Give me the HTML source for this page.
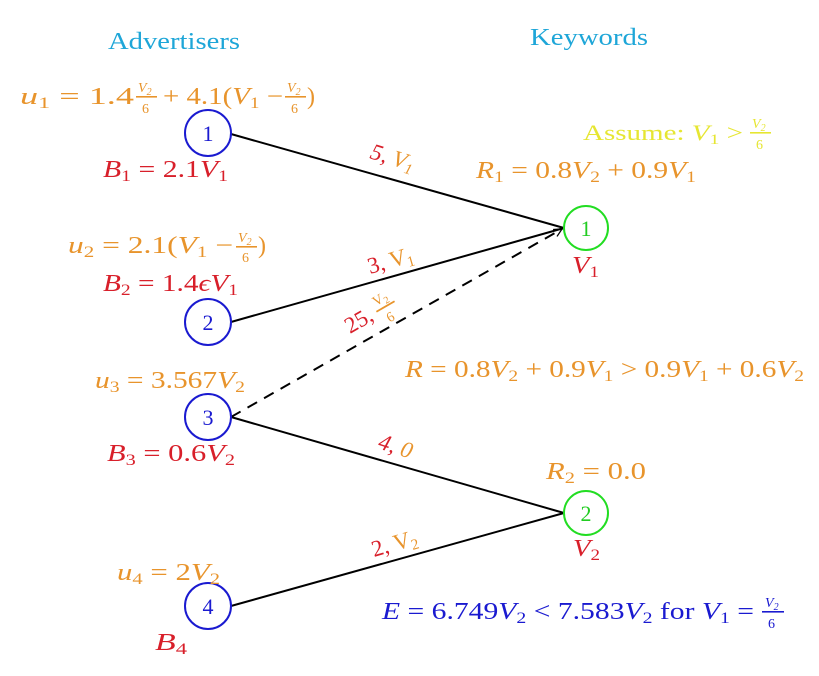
<!DOCTYPE html>
<html><head><meta charset="utf-8"><style>
html,body{margin:0;padding:0;background:#fff;}
svg{display:block;}
text{font-family:"Liberation Serif",serif;}
.o{fill:#e8942c}.r{fill:#d81f2a}.b{fill:#1a1ad0}.g{fill:#22cc22}
.i{font-style:italic}
</style></head><body>
<svg width="819" height="676" viewBox="0 0 819 676" xmlns="http://www.w3.org/2000/svg">
<defs><marker id="ar" markerWidth="10" markerHeight="10" refX="9" refY="5" orient="auto" markerUnits="userSpaceOnUse"><path d="M1,1 L9,5 L1,9" fill="none" stroke="#000" stroke-width="1.3"/></marker></defs>
<text x="108" y="49" font-size="24" textLength="132" lengthAdjust="spacingAndGlyphs" fill="#1ea6d8">Advertisers</text>
<text x="530" y="45" font-size="24" textLength="118" lengthAdjust="spacingAndGlyphs" fill="#1ea6d8">Keywords</text>

<g stroke="#000" stroke-width="2" fill="none">
<line x1="231" y1="134" x2="564" y2="228"/>
<line x1="231" y1="322" x2="564" y2="228"/>
<line x1="231" y1="417" x2="564" y2="513"/>
<line x1="231" y1="606" x2="564" y2="513"/>
<line x1="231" y1="417" x2="562" y2="229" stroke-dasharray="11,8" marker-end="url(#ar)"/>
</g>

<g fill="none" stroke-width="2">
<circle cx="208" cy="133" r="23" stroke="#1a1ad0"/>
<circle cx="208" cy="322" r="23" stroke="#1a1ad0"/>
<circle cx="208" cy="417" r="23" stroke="#1a1ad0"/>
<circle cx="208" cy="606" r="23" stroke="#1a1ad0"/>
<circle cx="586" cy="228" r="22" stroke="#22dd22"/>
<circle cx="586" cy="513" r="22" stroke="#22dd22"/>
</g>
<g font-size="22" text-anchor="middle">
<text x="208" y="141" class="b">1</text>
<text x="208" y="330" class="b">2</text>
<text x="208" y="425" class="b">3</text>
<text x="208" y="614" class="b">4</text>
<text x="586" y="236" class="g">1</text>
<text x="586" y="521" class="g">2</text>
</g>

<!-- u1 -->
<g class="o">
<text x="20" y="104" font-size="24" textLength="114" lengthAdjust="spacingAndGlyphs"><tspan class="i">u</tspan><tspan font-size="16" dy="4">1</tspan><tspan dy="-4"> = 1.4</tspan></text>
<text x="138" y="92" font-size="14" class="i">V<tspan font-size="10" dy="3">2</tspan></text>
<rect x="136" y="96" width="21" height="1.6" fill="#e8942c"/>
<text x="142" y="113" font-size="14">6</text>
<text x="163" y="104" font-size="24" textLength="120" lengthAdjust="spacingAndGlyphs">+ 4.1(<tspan class="i">V</tspan><tspan font-size="16" dy="4">1</tspan><tspan dy="-4"> −</tspan></text>
<text x="287" y="92" font-size="14" class="i">V<tspan font-size="10" dy="3">2</tspan></text>
<rect x="285" y="96" width="21" height="1.6" fill="#e8942c"/>
<text x="291" y="113" font-size="14">6</text>
<text x="307" y="104" font-size="24">)</text>
</g>
<text x="103" y="177" font-size="24" textLength="125" lengthAdjust="spacingAndGlyphs" class="r"><tspan class="i">B</tspan><tspan font-size="16" dy="4">1</tspan><tspan dy="-4"> = 2.1</tspan><tspan class="i">V</tspan><tspan font-size="16" dy="4">1</tspan></text>

<!-- u2 -->
<g class="o">
<text x="68" y="253" font-size="24" textLength="165" lengthAdjust="spacingAndGlyphs"><tspan class="i">u</tspan><tspan font-size="16" dy="4">2</tspan><tspan dy="-4"> = 2.1(</tspan><tspan class="i">V</tspan><tspan font-size="16" dy="4">1</tspan><tspan dy="-4"> −</tspan></text>
<text x="238" y="242" font-size="14" class="i">V<tspan font-size="10" dy="3">2</tspan></text>
<rect x="236" y="246" width="21" height="1.6" fill="#e8942c"/>
<text x="242" y="262" font-size="14">6</text>
<text x="258" y="253" font-size="24">)</text>
</g>
<text x="103" y="291" font-size="24" textLength="135" lengthAdjust="spacingAndGlyphs" class="r"><tspan class="i">B</tspan><tspan font-size="16" dy="4">2</tspan><tspan dy="-4"> = 1.4</tspan><tspan class="i">ϵV</tspan><tspan font-size="16" dy="4">1</tspan></text>

<text x="95" y="388" font-size="24" textLength="150" lengthAdjust="spacingAndGlyphs" class="o"><tspan class="i">u</tspan><tspan font-size="16" dy="4">3</tspan><tspan dy="-4"> = 3.567</tspan><tspan class="i">V</tspan><tspan font-size="16" dy="4">2</tspan></text>
<text x="107" y="461" font-size="24" textLength="128" lengthAdjust="spacingAndGlyphs" class="r"><tspan class="i">B</tspan><tspan font-size="16" dy="4">3</tspan><tspan dy="-4"> = 0.6</tspan><tspan class="i">V</tspan><tspan font-size="16" dy="4">2</tspan></text>

<text x="117" y="580" font-size="24" textLength="103" lengthAdjust="spacingAndGlyphs" class="o"><tspan class="i">u</tspan><tspan font-size="16" dy="4">4</tspan><tspan dy="-4"> = 2</tspan><tspan class="i">V</tspan><tspan font-size="16" dy="4">2</tspan></text>
<text x="155" y="650" font-size="24" textLength="32" lengthAdjust="spacingAndGlyphs" class="r"><tspan class="i">B</tspan><tspan font-size="16" dy="4">4</tspan></text>

<text x="583" y="140" font-size="22" textLength="160" lengthAdjust="spacingAndGlyphs" fill="#e6e632">Assume: <tspan class="i">V</tspan><tspan font-size="15" dy="4">1</tspan><tspan dy="-4"> &gt;</tspan></text>
<text x="752" y="128" font-size="14" fill="#e6e632" class="i">V<tspan font-size="10" dy="3">2</tspan></text>
<rect x="750" y="132" width="21" height="1.6" fill="#e6e632"/>
<text x="756" y="149" font-size="14" fill="#e6e632">6</text>

<text x="476" y="178" font-size="24" textLength="220" lengthAdjust="spacingAndGlyphs" class="o"><tspan class="i">R</tspan><tspan font-size="16" dy="4">1</tspan><tspan dy="-4"> = 0.8</tspan><tspan class="i">V</tspan><tspan font-size="16" dy="4">2</tspan><tspan dy="-4"> + 0.9</tspan><tspan class="i">V</tspan><tspan font-size="16" dy="4">1</tspan></text>
<text x="572" y="273" font-size="24" textLength="27" lengthAdjust="spacingAndGlyphs" class="r"><tspan class="i">V</tspan><tspan font-size="16" dy="4">1</tspan></text>

<text x="405" y="377" font-size="24" textLength="399" lengthAdjust="spacingAndGlyphs" class="o"><tspan class="i">R</tspan> = 0.8<tspan class="i">V</tspan><tspan font-size="16" dy="4">2</tspan><tspan dy="-4"> + 0.9</tspan><tspan class="i">V</tspan><tspan font-size="16" dy="4">1</tspan><tspan dy="-4"> &gt; 0.9</tspan><tspan class="i">V</tspan><tspan font-size="16" dy="4">1</tspan><tspan dy="-4"> + 0.6</tspan><tspan class="i">V</tspan><tspan font-size="16" dy="4">2</tspan></text>

<text x="546" y="479" font-size="24" textLength="100" lengthAdjust="spacingAndGlyphs" class="o"><tspan class="i">R</tspan><tspan font-size="16" dy="4">2</tspan><tspan dy="-4"> = 0.0</tspan></text>
<text x="573" y="556" font-size="24" textLength="27" lengthAdjust="spacingAndGlyphs" class="r"><tspan class="i">V</tspan><tspan font-size="16" dy="4">2</tspan></text>

<text x="382" y="619" font-size="24" textLength="372" lengthAdjust="spacingAndGlyphs" class="b"><tspan class="i">E</tspan> = 6.749<tspan class="i">V</tspan><tspan font-size="16" dy="4">2</tspan><tspan dy="-4"> &lt; 7.583</tspan><tspan class="i">V</tspan><tspan font-size="16" dy="4">2</tspan><tspan dy="-4"> for </tspan><tspan class="i">V</tspan><tspan font-size="16" dy="4">1</tspan><tspan dy="-4"> =</tspan></text>
<text x="765" y="607" font-size="14" class="b i">V<tspan font-size="10" dy="3">2</tspan></text>
<rect x="762" y="611" width="22" height="1.6" fill="#1a1ad0"/>
<text x="768" y="628" font-size="14" class="b">6</text>

<text transform="translate(369,158) rotate(17)" font-size="23"><tspan class="r i">5,</tspan><tspan class="o i"> V</tspan><tspan class="o i" font-size="15" dy="4">1</tspan></text>
<text transform="translate(370,274) rotate(-16)" font-size="23"><tspan class="r">3,</tspan><tspan class="o"> V</tspan><tspan class="o" font-size="15" dy="4">1</tspan></text>
<g transform="translate(350,334) rotate(-30)">
<text x="0" y="0" font-size="23" class="r">25,</text>
<text x="36" y="-11" font-size="14" class="o">V<tspan font-size="10" dy="3">2</tspan></text>
<rect x="34" y="-7" width="21" height="1.8" fill="#e8942c"/>
<text x="40" y="10" font-size="14" class="o">6</text>
</g>
<text transform="translate(377,448) rotate(18)" font-size="23"><tspan class="r i">4,</tspan><tspan class="o i"> 0</tspan></text>
<text transform="translate(374,557) rotate(-16)" font-size="23"><tspan class="r">2,</tspan><tspan class="o"> V</tspan><tspan class="o" font-size="15" dy="4">2</tspan></text>
</svg>
</body></html>
